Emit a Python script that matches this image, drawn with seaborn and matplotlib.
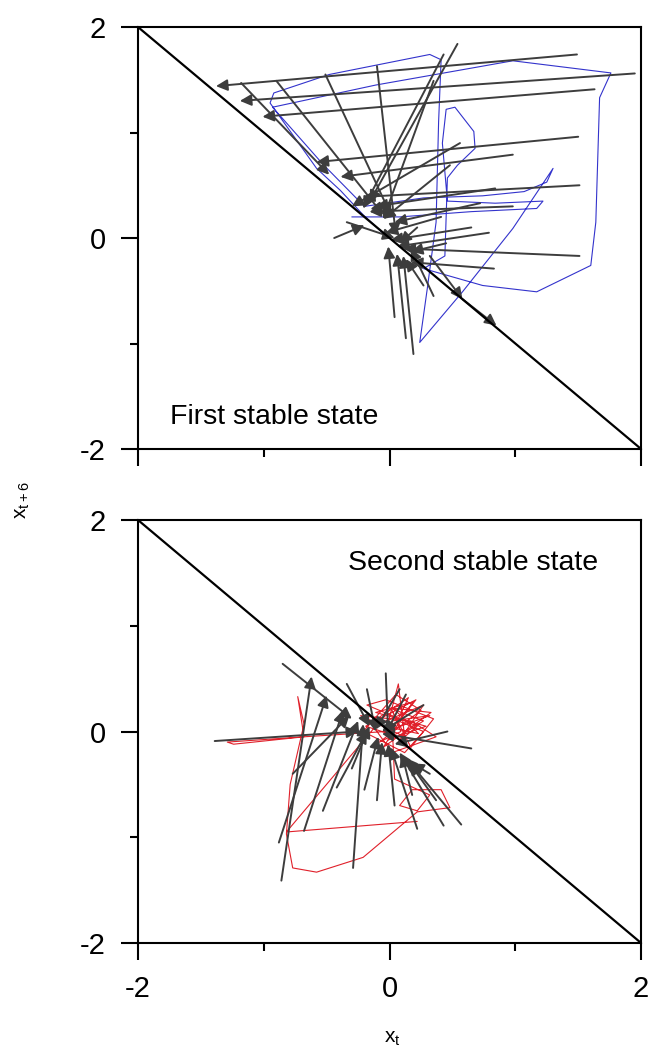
import numpy as np
import pandas as pd
import matplotlib
matplotlib.use("Agg")
import matplotlib.pyplot as plt
import seaborn as sns

# --- diagonal x_{t+6} = -x_t ---
diag_x = [-2, 2]
diag_y = [2, -2]

# --- top panel: arrows (tail -> head) ---
top_x0 = [1.49, 1.95, 1.63, 1.50, 0.98, 1.51, 0.98, 1.51, 0.83, 0.54, 0.43, 0.35,
          -0.10, -0.51, -0.90, -1.18, 0.19, 0.35, -0.34, 0.48, 0.72, 0.32, 0.58, 0.45,
          0.84, 0.04, 0.13, 0.22, 0.41, 0.65, 0.79, -0.44, 0.27, 0.56]
top_y0 = [1.74, 1.56, 1.41, 0.96, 0.79, 0.50, 0.30, -0.17, -0.29, 1.84, 1.74, 1.49,
          1.63, 1.55, 1.49, 1.47, -1.10, -0.55, 0.15, 0.69, 0.33, -0.17, -0.58, -0.05,
          0.47, -0.75, -0.95, 0.10, 0.20, 0.10, 0.05, 0.00, -0.45, 0.90]
top_x1 = [-1.38, -1.19, -1.01, -0.58, -0.39, -0.21, -0.16, 0.11, 0.17, -0.16, -0.21, -0.05,
          0.05, 0.01, -0.05, -0.48, 0.11, 0.17, 0.04, -0.05, 0.04, 0.58, 0.85, 0.17,
          -0.11, -0.01, 0.06, 0.08, -0.03, 0.01, 0.06, -0.20, 0.13, -0.30]
top_y1 = [1.44, 1.30, 1.15, 0.72, 0.58, 0.39, 0.25, -0.10, -0.23, 0.34, 0.28, 0.18,
          0.03, 0.22, 0.22, 0.60, -0.17, -0.10, 0.00, 0.18, 0.15, -0.58, -0.83, -0.13,
          0.30, -0.08, -0.15, -0.05, 0.05, -0.02, -0.08, 0.12, -0.20, 0.30]

# --- top panel: blue trajectory ---
blue_x = [-0.01, -0.21, -0.39, -0.58, -0.95, -0.92, -0.48, 0.32, 0.41, 0.39, 0.37, 0.30,
          0.24, 0.58, 0.98, 1.30, 1.25, 1.07, 0.74, 0.27, -0.20, -0.53, -0.93, -0.11,
          0.98, 1.76, 1.67, 1.64, 1.60, 1.17, 0.74, 0.27, 0.44, 0.46, 0.54, 0.68,
          0.67, 0.52, 0.45, 0.42, 0.46, 0.84, 1.22, 1.17, 0.65, 0.08, -0.30]
blue_y = [0.00, 0.22, 0.45, 0.66, 1.28, 1.375, 1.55, 1.74, 1.69, 1.10, 0.15, -0.48,
          -0.99, -0.51, 0.09, 0.66, 0.53, 0.44, 0.40, 0.38, 0.30, 0.70, 1.24, 1.45,
          1.68, 1.565, 1.33, 0.15, -0.26, -0.51, -0.45, -0.29, -0.17, 0.57, 0.69, 0.85,
          1.01, 1.24, 1.22, 0.90, 0.35, 0.33, 0.35, 0.28, 0.25, 0.20, 0.20]

# --- bottom panel: arrows (tail -> head) ---
bot_x0 = [-0.86, -0.88, -0.68, -0.29, -0.85, -1.39, 0.65, -0.03, -0.18, 0.57, 0.43, 0.22,
          -0.10, -0.42, 0.27, 0.32, -0.53, 0.04, -0.34, 0.13, -0.77, 0.37, 0.18, -0.30,
          0.46, -0.20, 0.08]
bot_y0 = [-1.41, -1.05, -0.94, -1.29, 0.64, -0.09, -0.16, 0.55, 0.40, -0.88, -0.89, -0.92,
          -0.65, -0.53, 0.25, -0.40, -0.75, -0.70, 0.45, 0.35, -0.40, -0.65, -0.60, -0.35,
          0.00, -0.55, 0.40]
bot_x1 = [-0.62, -0.50, -0.37, -0.21, -0.30, -0.25, -0.06, -0.01, -0.11, 0.13, 0.08, 0.01,
          -0.06, -0.18, -0.06, 0.18, -0.25, -0.01, -0.16, -0.03, -0.32, 0.16, 0.10, -0.16,
          0.04, -0.09, -0.11]
bot_y1 = [0.52, 0.34, 0.20, 0.07, 0.12, 0.00, -0.02, -0.05, 0.00, -0.25, -0.20, -0.15,
          -0.10, 0.00, 0.00, -0.30, 0.10, -0.12, 0.05, -0.02, 0.15, -0.30, -0.22, 0.05,
          -0.12, -0.05, 0.02]

# --- bottom panel: red trajectory ---
red_x = [-0.03, -0.68, -1.29, -1.24, -0.68, -0.73, -0.68, -0.79, -0.82, -0.77, -0.58, -0.21,
         0.22, 0.48, 0.41, 0.18, 0.08, 0.22, 0.32, 0.04, 0.02, 0.32, -0.03, 0.07,
         0.12, -0.23, 0.17, 0.37, 0.02, -0.13, 0.27, 0.07, 0.22, -0.18, -0.03, 0.35,
         0.17, 0.02, 0.09, -0.08, 0.25, 0.05, -0.21, 0.12, 0.27, 0.07, 0.19, -0.11,
         0.29, -0.01, 0.15, -0.15, 0.23, 0.03, 0.33, -0.05, 0.11, 0.21, -0.19, 0.07,
         0.27, 0.01, -0.82, 0.22]
red_y = [0.00, -0.05, -0.10, -0.12, -0.05, 0.33, 0.07, -0.50, -0.97, -1.29, -1.33, -1.19,
         -0.76, -0.72, -0.55, -0.55, -0.70, -0.75, -0.60, -0.45, 0.10, 0.15, 0.00, 0.45,
         -0.05, 0.15, 0.10, -0.05, -0.20, 0.05, 0.25, -0.10, 0.05, 0.25, 0.30, 0.12,
         -0.15, 0.20, 0.00, -0.10, 0.20, 0.35, 0.00, -0.20, 0.00, 0.10, 0.28, 0.18,
         0.05, -0.08, 0.32, 0.08, -0.02, 0.22, 0.18, -0.15, 0.15, 0.30, 0.05, -0.05,
         0.10, 0.22, -0.95, -0.85]

x_ticks = [-2, -1, 0, 1, 2]
y_ticks = [-2, -1, 0, 1, 2]
tick_labels = ["-2", "", "0", "", "2"]

sns.set_style("ticks")
plt.rcParams['font.family'] = ['Liberation Sans', 'DejaVu Sans']
for k in ["text.color", "axes.labelcolor", "xtick.color", "ytick.color", "axes.edgecolor"]:
    plt.rcParams[k] = "black"

fig = plt.figure(figsize=(6.5, 10.52), dpi=100)
ax_top = fig.add_axes([0.2123, 0.5732, 0.774, 0.4011])
ax_bot = fig.add_axes([0.2123, 0.1036, 0.774, 0.4021])

arrow_col = "#3d3d3d"


def draw_panel(ax, x0, y0, x1, y1, tx, ty, tcol, show_x):
    sns.lineplot(x=tx, y=ty, sort=False, estimator=None, color=tcol, lw=0.8,
                 ax=ax, zorder=2)
    for a, b, c, d in zip(x0, y0, x1, y1):
        ax.annotate("", xy=(c, d), xytext=(a, b),
                    arrowprops=dict(arrowstyle="-|>", color=arrow_col, lw=1.4,
                                    mutation_scale=17, shrinkA=0, shrinkB=0),
                    zorder=3)
    sns.lineplot(x=diag_x, y=diag_y, estimator=None, color="black", lw=1.6, ax=ax, zorder=4)
    ax.set_xlim(-2, 2)
    ax.set_ylim(-2, 2)
    ax.set_xticks(x_ticks)
    ax.set_yticks(y_ticks)
    ax.set_yticklabels(tick_labels, fontsize=21)
    if show_x:
        ax.set_xticklabels(tick_labels, fontsize=21)
    else:
        ax.set_xticklabels([])
    ax.tick_params(length=12, width=1.5, pad=11, direction="out")
    for s in ax.spines.values():
        s.set_linewidth(1.5)
        s.set_visible(True)
    # short ticks at +-1
    for t in ax.xaxis.get_major_ticks()[1::2] + ax.yaxis.get_major_ticks()[1::2]:
        t.tick1line.set_markersize(6)


draw_panel(ax_top, top_x0, top_y0, top_x1, top_y1, blue_x, blue_y, "#3333cc", False)
draw_panel(ax_bot, bot_x0, bot_y0, bot_x1, bot_y1, red_x, red_y, "#e0202a", True)

ax_top.text(-1.745, -1.70, "First stable state", fontsize=20.5, va="center", ha="left")
ax_bot.text(-0.33, 1.59, "Second stable state", fontsize=20.5, va="center", ha="left")

fig.text(0.034, 0.525, r"$\mathregular{x_{t+6}}$", rotation=90, fontsize=15,
         ha="center", va="center")
fig.text(0.603, 0.013, r"$\mathregular{x_t}$", fontsize=15, ha="center", va="center")

plt.savefig("out.png", dpi=100)
plt.close()
